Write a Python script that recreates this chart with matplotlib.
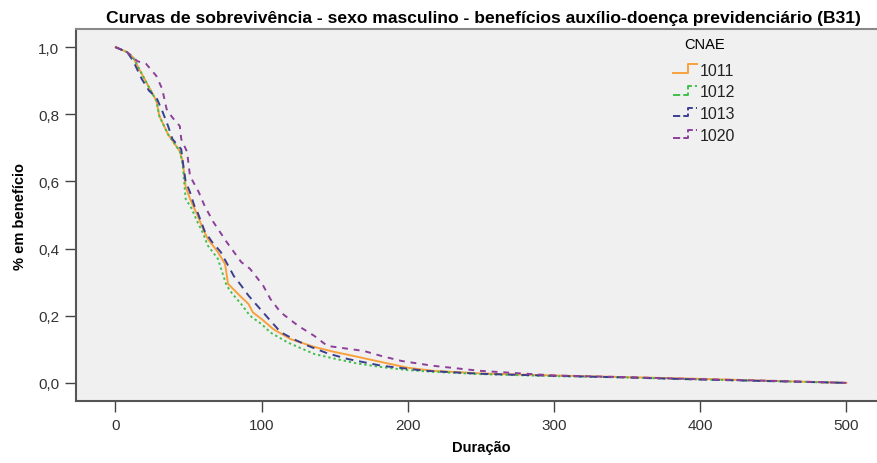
import matplotlib
matplotlib.use("Agg")
import matplotlib.pyplot as plt
from matplotlib.legend_handler import HandlerBase
from matplotlib.lines import Line2D
from matplotlib.ticker import FuncFormatter

plt.rcParams['font.family'] = ['Liberation Sans', 'DejaVu Sans']

# Data (duration, survival proportion)
x_1011 = [0, 8, 12, 15, 21, 28, 30, 36, 44, 46, 48, 51, 56, 60, 63, 70, 75, 77, 85, 91, 94, 100, 108, 120, 136, 150, 163, 182, 200, 217, 250, 300, 350, 400, 450, 500]
y_1011 = [1.0, 0.985, 0.97, 0.945, 0.896, 0.84, 0.795, 0.74, 0.69, 0.66, 0.585, 0.548, 0.5, 0.458, 0.43, 0.39, 0.354, 0.295, 0.26, 0.235, 0.21, 0.19, 0.16, 0.13, 0.107, 0.092, 0.08, 0.062, 0.045, 0.036, 0.028, 0.022, 0.017, 0.012, 0.006, 0.0]

x_1012 = [0, 8, 12, 15, 21, 28, 30, 36, 44, 46, 48, 52, 56, 60, 63, 70, 76, 80, 86, 92, 100, 106, 118, 136, 150, 165, 182, 200, 217, 250, 300, 350, 400, 450, 500]
y_1012 = [1.0, 0.985, 0.97, 0.945, 0.896, 0.84, 0.795, 0.74, 0.69, 0.65, 0.548, 0.52, 0.48, 0.445, 0.41, 0.37, 0.29, 0.265, 0.235, 0.2, 0.175, 0.15, 0.12, 0.086, 0.072, 0.058, 0.047, 0.038, 0.033, 0.026, 0.02, 0.016, 0.01, 0.005, 0.0]

x_1013 = [0, 8, 12, 18, 23, 28, 32, 36, 39, 45, 46, 48, 51, 54, 56, 61, 66, 72, 81, 86, 91, 97, 103, 113, 122, 132, 145, 159, 182, 212, 250, 300, 350, 400, 450, 500]
y_1013 = [1.0, 0.985, 0.96, 0.905, 0.87, 0.85, 0.81, 0.765, 0.726, 0.696, 0.66, 0.6, 0.568, 0.527, 0.51, 0.452, 0.42, 0.39, 0.318, 0.29, 0.26, 0.23, 0.2, 0.151, 0.13, 0.11, 0.088, 0.071, 0.051, 0.036, 0.027, 0.021, 0.016, 0.01, 0.005, 0.0]

x_1020 = [0, 8, 15, 21, 28, 32, 35, 39, 44, 45, 49, 51, 57, 61, 67, 76, 86, 92, 101, 106, 113, 125, 136, 145, 170, 182, 196, 217, 249, 300, 350, 400, 450, 500]
y_1020 = [1.0, 0.985, 0.958, 0.95, 0.914, 0.875, 0.815, 0.79, 0.765, 0.726, 0.688, 0.616, 0.568, 0.527, 0.479, 0.42, 0.36, 0.34, 0.29, 0.25, 0.21, 0.17, 0.14, 0.11, 0.095, 0.08, 0.065, 0.051, 0.036, 0.022, 0.017, 0.011, 0.006, 0.0]

categories = ['1011', '1012', '1013', '1020']
series_x = [x_1011, x_1012, x_1013, x_1020]
series_y = [y_1011, y_1012, y_1013, y_1020]
x_ticks = [0, 100, 200, 300, 400, 500]
y_ticks = [0.0, 0.2, 0.4, 0.6, 0.8, 1.0]

colors = ['#f8a13c', '#3fbf4a', '#3b3f8f', '#8e3f9c']
styles = ['-', (0, (1.2, 1.5)), (0, (4, 3)), (0, (3, 3))]
widths = [1.4, 1.4, 1.4, 1.4]

fig = plt.figure(figsize=(8.77, 4.64), dpi=100)
ax = fig.add_axes([76/877, 62/464, 1 - 76/877 + 0.01, (402-30)/464])
ax.set_facecolor('#f0f0f0')

for xs, ys, c, ls, lw, lab in zip(series_x, series_y, colors, styles, widths, categories):
    ax.plot(xs, ys, color=c, linestyle=ls, linewidth=lw, label=lab)

ax.set_xlim(-27, 527)
ax.set_ylim(-0.054, 1.054)
ax.set_xticks(x_ticks)
ax.set_yticks(y_ticks)
ax.yaxis.set_major_formatter(FuncFormatter(lambda v, p: f"{v:.1f}".replace('.', ',')))
ax.tick_params(axis='both', direction='out', length=8, width=1, color='#444444',
               labelsize=11, labelcolor='#333333', pad=4)

for s in ['left', 'bottom']:
    ax.spines[s].set_color('#555555')
    ax.spines[s].set_linewidth(1.5)
ax.spines['top'].set_color('#888888')
ax.spines['top'].set_linewidth(1.5)
ax.spines['right'].set_visible(False)

ax.set_title('Curvas de sobrevivência - sexo masculino - benefícios auxílio-doença previdenciário (B31)',
             fontsize=12.6, fontweight='bold', pad=5, x=(479-76)/(877-76))
ax.set_xlabel('Duração', fontsize=10.5, fontweight='bold', labelpad=6)
ax.set_ylabel('% em benefício', fontsize=10.5, fontweight='bold', labelpad=8)


class StepHandler(HandlerBase):
    def create_artists(self, legend, orig_handle, xdescent, ydescent, width, height, fontsize, trans):
        x0 = -xdescent
        y0 = -ydescent
        xs = [x0, x0 + width * 0.6, x0 + width * 0.6, x0 + width]
        ys = [y0 + height * 0.15, y0 + height * 0.15, y0 + height * 0.9, y0 + height * 0.9]
        ln = Line2D(xs, ys, color=orig_handle.get_color(), linestyle=orig_handle.get_linestyle(),
                    linewidth=orig_handle.get_linewidth())
        ln.set_transform(trans)
        return [ln]


handles, labels = ax.get_legend_handles_labels()
leg = ax.legend(handles, labels, title='CNAE', loc='upper left', bbox_to_anchor=(0.72, 1.016),
                frameon=False, fontsize=11.5, title_fontsize=10.5, handlelength=1.5, handletextpad=0.15,
                labelspacing=0.42, handler_map={Line2D: StepHandler()})
leg._legend_box.sep = 8
for t in leg.get_texts():
    t.set_color('#222222')

fig.savefig('out.png', dpi=100, facecolor='white')
